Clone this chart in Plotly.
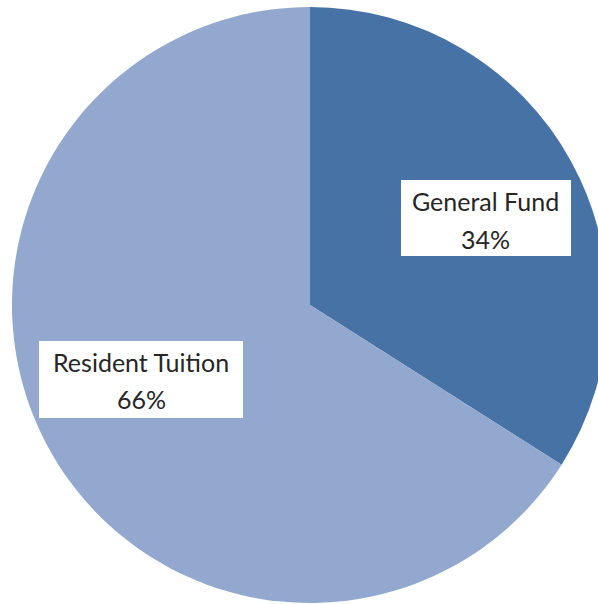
import plotly.graph_objects as go

# Funding sources
labels = ["General Fund", "Resident Tuition"]
values = [34, 66]
colors = ["#4672A6", "#92A8CE"]

W, H = 620, 604


def px_x(x):
    return x / W


def px_y(y):
    return 1 - y / H


fig = go.Figure(
    go.Pie(
        labels=labels,
        values=values,
        sort=False,
        direction="clockwise",
        rotation=0,
        marker=dict(colors=colors, line=dict(width=0)),
        textinfo="none",
        hoverinfo="label+percent",
        showlegend=False,
        domain=dict(x=[px_x(12), px_x(608)], y=[px_y(603), px_y(7)]),
    )
)

total = sum(values)
# white label boxes: (left, top, right, bottom) and text centre x, line y's
boxes = [
    (401, 180, 571, 256, 486, 201, 239),
    (39, 341, 243, 418, 141, 362, 399),
]
shapes = []
annotations = []
font = dict(family="Lato, Open Sans, sans-serif", size=25, color="#262626")
for (l, t, r, b, cx, y1, y2), name, v in zip(boxes, labels, values):
    shapes.append(dict(
        type="rect", xref="paper", yref="paper", layer="above",
        x0=px_x(l), x1=px_x(r), y0=px_y(b), y1=px_y(t),
        fillcolor="white", line=dict(width=0),
    ))
    pct = f"{round(100 * v / total)}%"
    for txt, yy in ((name, y1), (pct, y2)):
        annotations.append(dict(
            x=px_x(cx), y=px_y(yy), xref="paper", yref="paper",
            text=txt, showarrow=False, xanchor="center", yanchor="middle",
            font=font,
        ))

fig.update_layout(
    width=W, height=H,
    margin=dict(l=0, r=0, t=0, b=0),
    paper_bgcolor="white",
    plot_bgcolor="white",
    shapes=shapes,
    annotations=annotations,
)

fig.write_html(
    "out.html",
    post_script="document.documentElement.style.overflow='hidden';"
                "document.body.style.overflow='hidden';"
                "document.body.style.margin='0';",
)
